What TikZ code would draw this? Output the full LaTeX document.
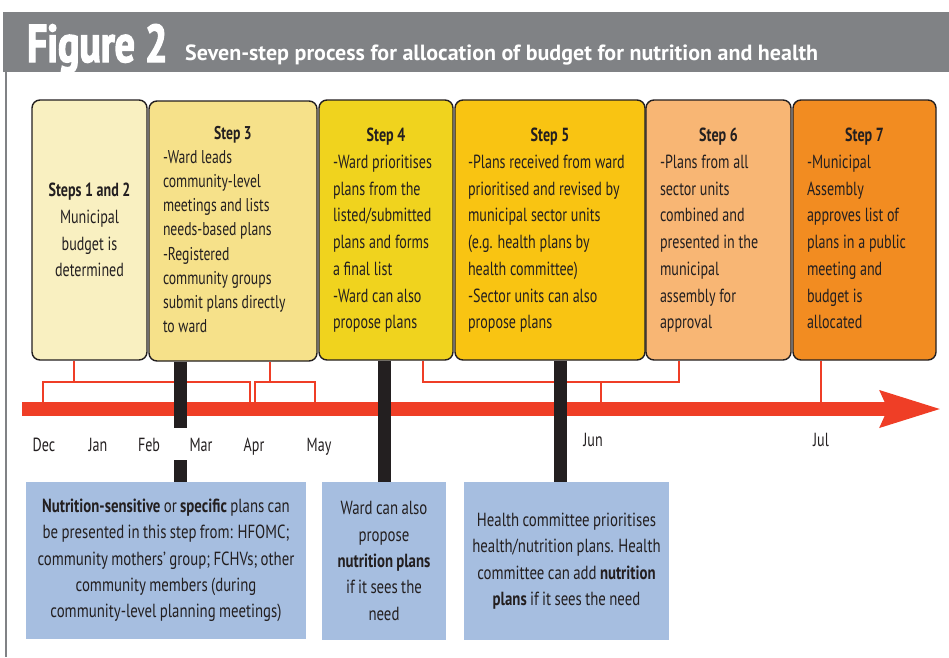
\documentclass[tikz,border=0pt]{standalone}
\usepackage{fontspec}
\setmainfont{PT Sans}
\newfontfamily\stepfont{PT Sans}[FakeStretch=0.74]
\newfontfamily\notefont{PT Sans}[FakeStretch=0.78,WordSpace=0.85]
\newfontfamily\titlefont{PT Sans}[FakeStretch=0.75,FakeBold=2.5]
\usetikzlibrary{arrows.meta,calc}
\definecolor{hdrgray}{HTML}{808285}
\definecolor{ink}{HTML}{231F20}
\definecolor{tlred}{HTML}{EF3E26}
\definecolor{stepA}{HTML}{F9F0C1}
\definecolor{stepB}{HTML}{F6E18A}
\definecolor{stepC}{HTML}{F0D31E}
\definecolor{stepD}{HTML}{F9C412}
\definecolor{stepE}{HTML}{F8B674}
\definecolor{stepF}{HTML}{F28C21}
\definecolor{notebg}{HTML}{A6BEE0}
\newcommand{\stephead}[1]{\strut\hfill\textbf{#1}\hfill\null\\}

\begin{document}
\begin{tikzpicture}[x=1pt,y=-1pt,
  stepbox/.style={draw=ink,line width=1.4pt,rounded corners=8pt,
                  minimum height=260pt,inner xsep=14pt,inner ysep=0pt,
                  text=ink,align=flush left,font=\stepfont\fontsize{19}{26.7}\selectfont},
  notebox/.style={fill=notebg,inner xsep=6pt,inner ysep=0pt,align=center,
                  text=ink,font=\notefont\fontsize{19}{26.4}\selectfont},
  month/.style={text=ink,anchor=base,font=\stepfont\fontsize{19}{20}\selectfont},
  gapmonth/.style={month,fill=white,minimum width=62pt,minimum height=32pt},
  bracket/.style={tlred,line width=1.8pt},
  stem/.style={ink,line width=13pt},
  timeline/.style={tlred,line width=14pt,-{Stealth[length=60pt,width=34pt,inset=6pt]}}
]
  \useasboundingbox (0,0) rectangle (949,657);

  % Header bar and frame
  \fill[hdrgray] (3,12) rectangle (949,72);
  \draw[hdrgray,line width=2.5pt] (6,72) -- (6,657);
  \node[anchor=base west,inner sep=0pt,text=white,
        font=\titlefont\bfseries\fontsize{53}{53}\selectfont] (fig) at (27,62) {Figure 2};
  \node[anchor=base west,inner sep=0pt,text=white,
        font=\bfseries\fontsize{22}{24}\selectfont] (sub) at (185,60)
        {Seven-step process for allocation of budget for nutrition and health};

  % The seven steps
  \node[stepbox,fill=stepA,align=flush center,inner xsep=7.5pt,text width=100pt] (s12) at (89.5,230)
    {\textbf{Steps 1 and 2}\\Municipal\\budget is\\determined};
  \node[stepbox,fill=stepB,text width=140pt,font=\stepfont\fontsize{18.5}{24.2}\selectfont] (s3) at (233,231)
    {\stephead{Step 3}-Ward leads\\community-level\\meetings and lists\\
     needs-based plans\\-Registered\\community groups\\submit plans directly\\to ward\strut};
  \node[stepbox,fill=stepC,text width=106pt] (s4) at (386,230)
    {\stephead{Step 4}-Ward prioritises\\plans from the\\listed/submitted\\
     plans and forms\\a final list\\-Ward can also\\propose plans\strut};
  \node[stepbox,fill=stepD,text width=164pt,inner xsep=13pt] (s5) at (550,230)
    {\stephead{Step 5}-Plans received from ward\\prioritised and revised by\\
     municipal sector units\\(e.g. health plans by\\health committee)\\-Sector units can also\\propose plans\strut};
  \node[stepbox,fill=stepE,text width=117pt] (s6) at (718.5,230)
    {\stephead{Step 6}-Plans from all\\sector units\\combined and\\presented in the\\
     municipal\\assembly for\\approval\strut};
  \node[stepbox,fill=stepF,text width=115pt] (s7) at (864.5,230)
    {\stephead{Step 7}-Municipal\\Assembly\\approves list of\\plans in a public\\
     meeting and\\budget is\\allocated\strut};

  % Notes under the steps
  \node[notebox,minimum width=280pt,minimum height=157pt] (n3) at (166,560.5)
    {\textbf{Nutrition-sensitive} or \textbf{specific} plans can\\be presented in this step from: HFOMC;\\
     community mothers’ group; FCHVs; other\\community members (during\\community-level planning meetings)};
  \node[notebox,minimum width=124pt,minimum height=158pt] (n4) at (384,561)
    {Ward can also\\propose\\\textbf{nutrition plans}\\if it sees the\\need};
  \node[notebox,minimum width=205pt,minimum height=158pt] (n5) at (566.5,561)
    {Health committee prioritises\\health/nutrition plans. Health\\committee can add \textbf{nutrition}\\
     \textbf{plans} if it sees the need};

  % Brackets from the steps to the months
  \coordinate (j1) at (74,382);
  \coordinate (j2) at (270,382);
  \coordinate (j3) at (423,382);
  \coordinate (j4) at (679,382);
  \coordinate (tA) at (43,404);
  \coordinate (tB) at (250,404);
  \coordinate (tC) at (255,404);
  \coordinate (tD) at (315,404);
  \coordinate (tE) at (601,404);
  \coordinate (tF) at (821,404);
  \draw[bracket] (s12.south -| j1) -- (j1);
  \draw[bracket] (tA) |- (tB |- j1) -- (tB);
  \draw[bracket] (s3.south -| j2) -- (j2);
  \draw[bracket] (tC) |- (tD |- j2) -- (tD);
  \draw[bracket] (s4.south -| j3) -- (j3) -- (j4) -- (s6.south -| j4);
  \draw[bracket] (tE |- j3) -- (tE);
  \draw[bracket] (s7.south -| tF) -- (tF);

  % Timeline
  \coordinate (tl0) at (22,409);
  \coordinate (tl1) at (942,409);
  \draw[timeline] (tl0) -- (tl1);

  % Steps linked to their notes
  \draw[stem] (s3.south -| 180.5,0) -- (n3.north -| 180.5,0);
  \draw[stem] (s4.south -| 384,0) -- (n4.north);
  \draw[stem] (s5.south -| 560,0) -- (n5.north -| 560,0);

  % Months
  \foreach \m/\x/\y/\s in {Dec/44/451/month,Jan/98/451/month,Feb/149/451/month,
                           Mar/201/451/gapmonth,Apr/254/451/month,May/319/451/month,
                           Jun/593/446/month,Jul/821/446/month}{
    \node[\s] (\m) at (\x,\y) {\m};
  }
\end{tikzpicture}
\end{document}
